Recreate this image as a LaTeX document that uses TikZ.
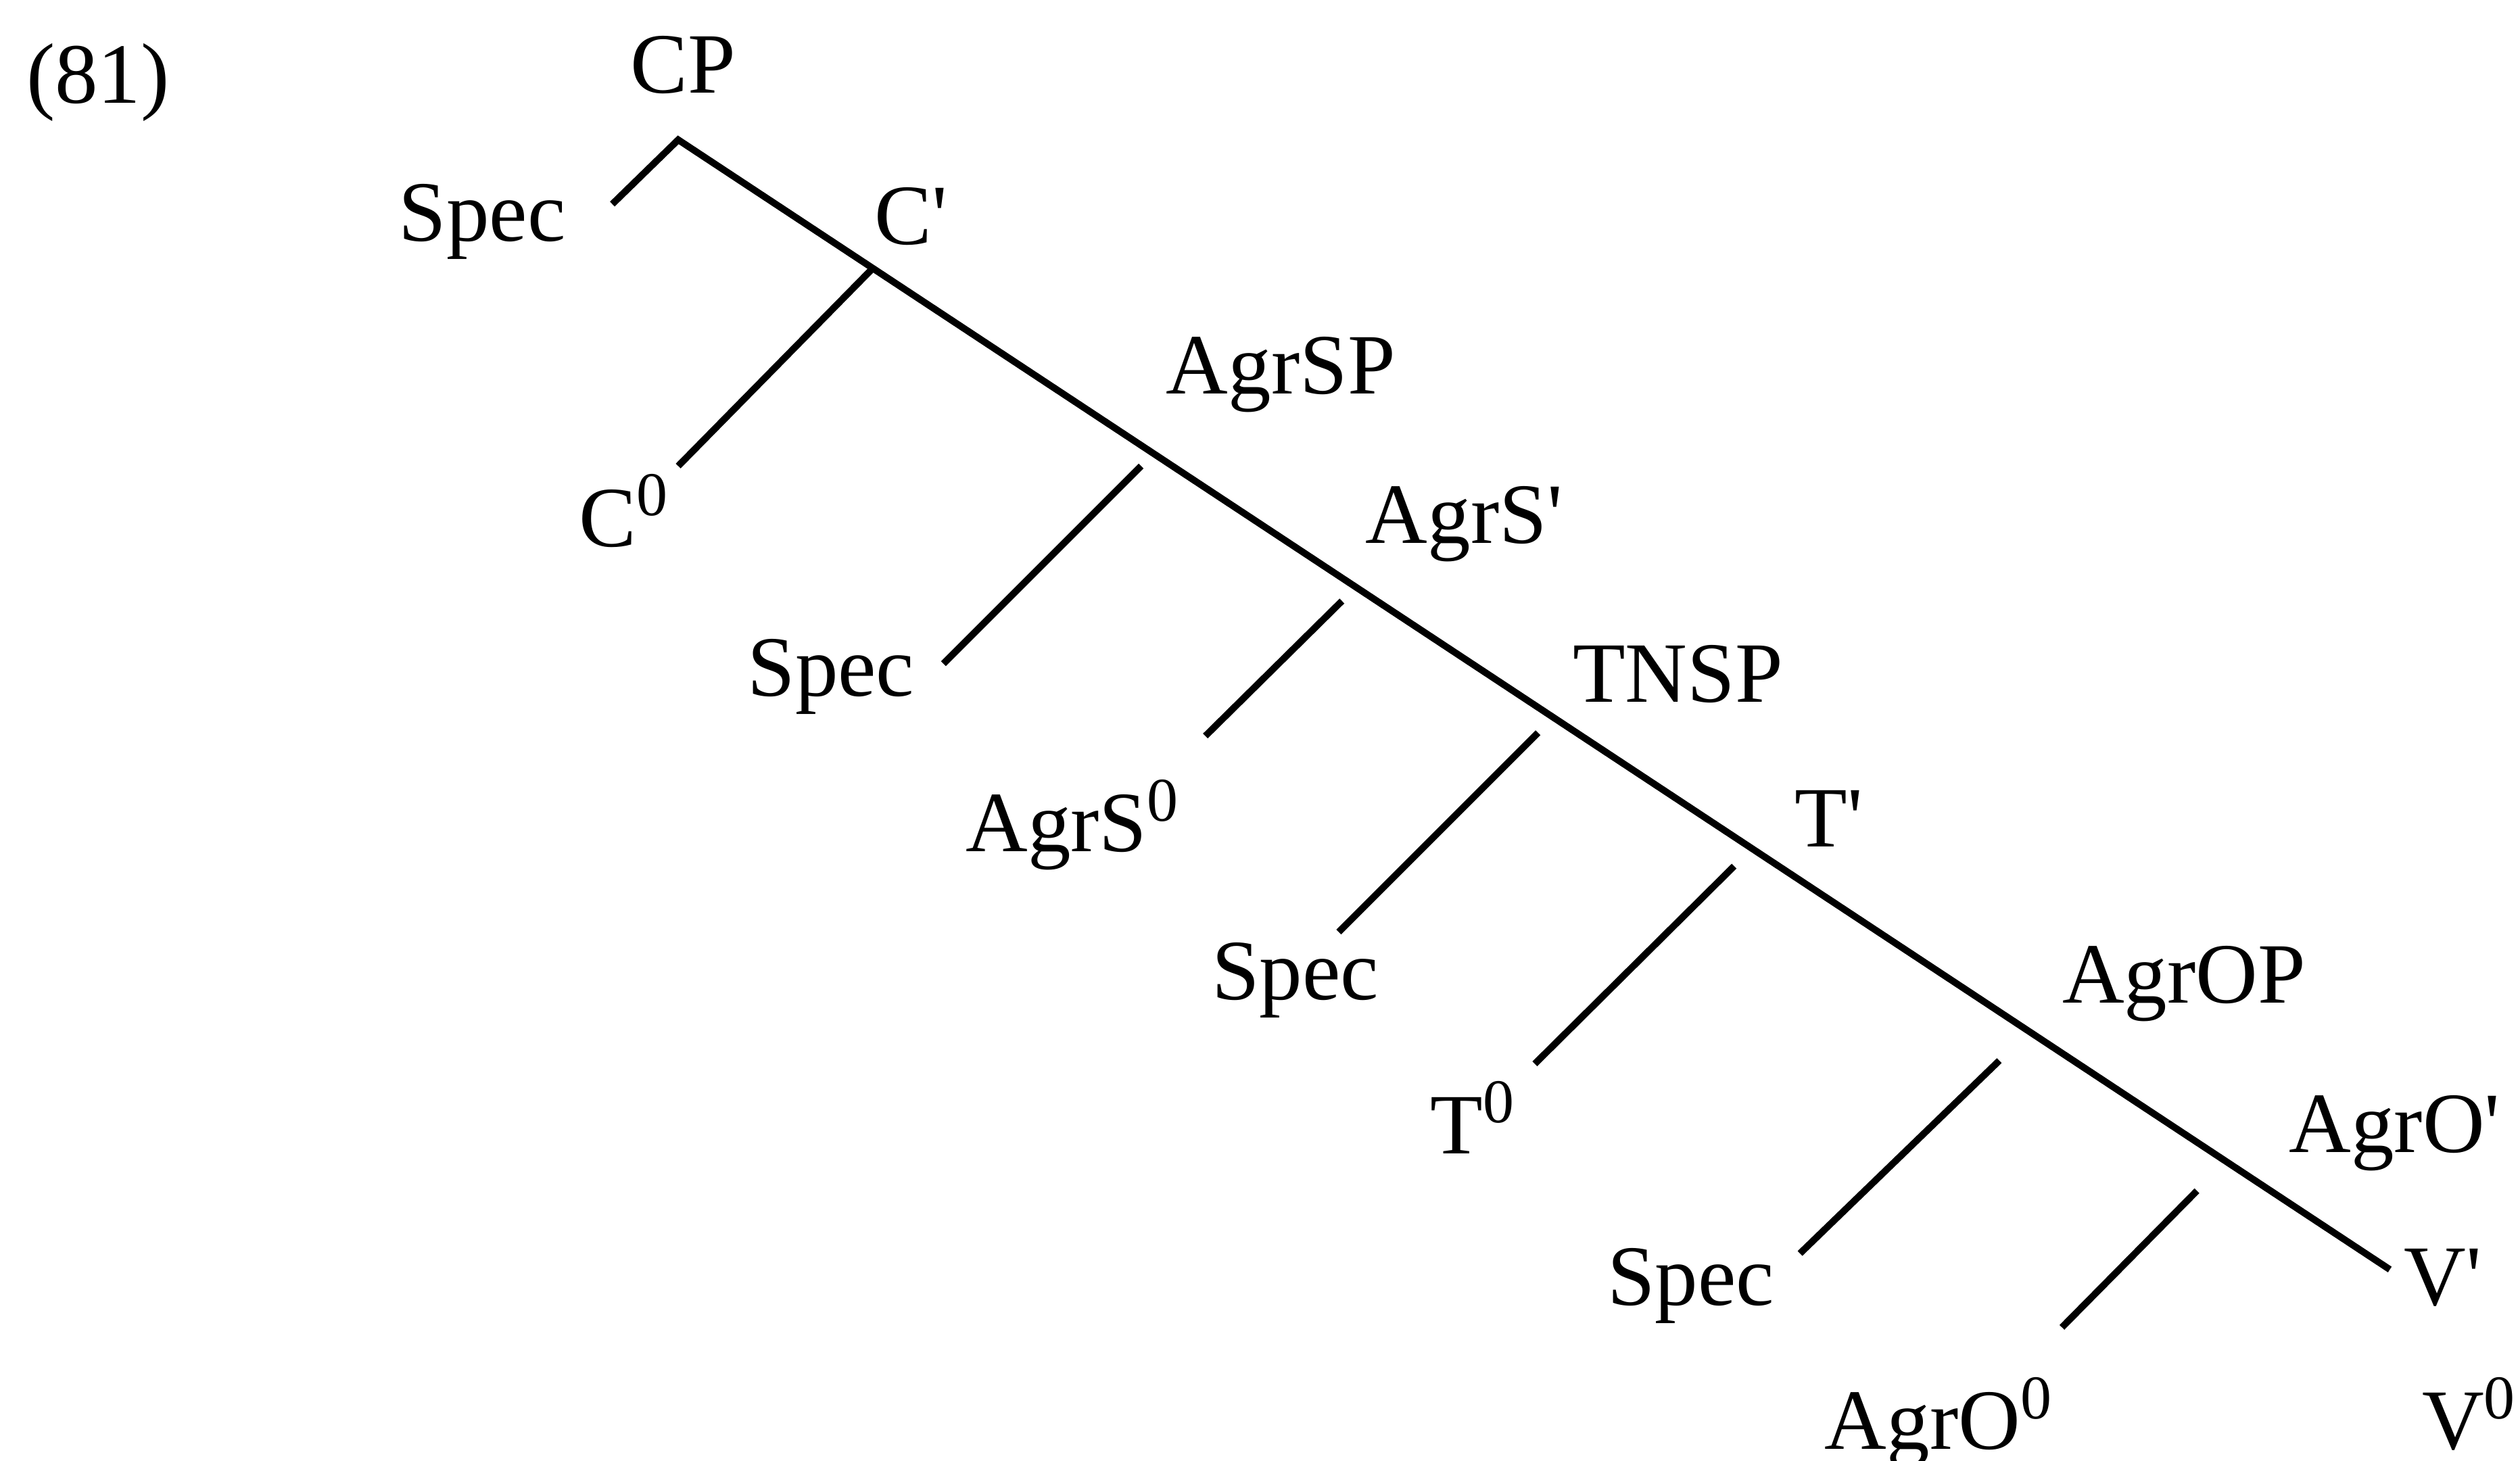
\documentclass[tikz,border=0pt]{standalone}
\usepackage{fontspec}
\setmainfont{Liberation Serif}
\usepackage{tikz}

\newcommand{\zerobar}{\raisebox{0.36em}{\fontsize{11}{12}\selectfont 0}}

\begin{document}
\begin{tikzpicture}[x=0.01cm, y=-0.01cm,
    lbl/.style={font=\fontsize{15.2}{18}\selectfont, inner sep=0pt, anchor=base},
    branch/.style={line width=1.2pt}]
            \useasboundingbox (0,0) rectangle (1568,909);
            % Example number
            \node[lbl] (num) at (61,64) {(81)};
            
            % CP level
            \node[lbl] (cp) at (425,58) {CP};
            \node[lbl] (speccp) at (300,150) {Spec};
            \node[lbl] (cbar) at (567,152) {C\textquotesingle};
            \node[lbl] (czero) at (388,340) {C\zerobar};
            
            % AgrS level
            \node[lbl] (agrsp) at (797,245) {AgrSP};
            \node[lbl] (specagrs) at (517,433) {Spec};
            \node[lbl] (agrsbar) at (911,338) {AgrS\textquotesingle};
            \node[lbl] (agrszero) at (667,530) {AgrS\zerobar};
            
            % TNS level
            \node[lbl] (tnsp) at (1044,437) {TNSP};
            \node[lbl] (spect) at (806,622) {Spec};
            \node[lbl] (tbar) at (1138,527) {T\textquotesingle};
            \node[lbl] (tzero) at (916,718) {T\zerobar};
            
            % AgrO level
            \node[lbl] (agrop) at (1359,624) {AgrOP};
            \node[lbl] (specagro) at (1052,812) {Spec};
            \node[lbl] (agrobar) at (1490,717) {AgrO\textquotesingle};
            \node[lbl] (agrozero) at (1206,902) {AgrO\zerobar};
            
            % V level
            \node[lbl] (vbar) at (1520,812) {V\textquotesingle};
            \node[lbl] (vzero) at (1536,902) {V\zerobar};
            
            % Branch points
            \coordinate (cptop) at (422,87);
            \coordinate (cpspec) at (381,127);
            \coordinate (vend) at (1487,790);
            \coordinate (cbr) at (543,167);
            \coordinate (cend) at (422,290);
            \coordinate (s1a) at (710,290);
            \coordinate (s1b) at (587,413);
            \coordinate (asa) at (835,374);
            \coordinate (asb) at (750,458);
            \coordinate (s2a) at (957,456);
            \coordinate (s2b) at (833,580);
            \coordinate (ta) at (1079,539);
            \coordinate (tb) at (955,662);
            \coordinate (s3a) at (1244,660);
            \coordinate (s3b) at (1120,780);
            \coordinate (aoa) at (1367,741);
            \coordinate (aob) at (1283,826);
            
            % Lines
            \draw[branch] (cpspec) -- (cptop) -- (vend);
            \draw[branch] (cbr) -- (cend);
            \draw[branch] (s1a) -- (s1b);
            \draw[branch] (asa) -- (asb);
            \draw[branch] (s2a) -- (s2b);
            \draw[branch] (ta) -- (tb);
            \draw[branch] (s3a) -- (s3b);
            \draw[branch] (aoa) -- (aob);
        \end{tikzpicture}
\end{document}
